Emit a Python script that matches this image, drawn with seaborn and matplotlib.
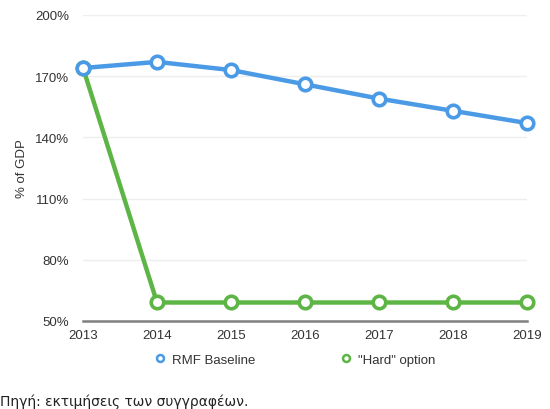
import pandas as pd
import numpy as np
import matplotlib
matplotlib.use('Agg')
import matplotlib.pyplot as plt
from matplotlib.lines import Line2D
import seaborn as sns

sns.set_style('white')
plt.rcParams['font.family'] = ['Liberation Sans', 'DejaVu Sans']

years = [2013, 2014, 2015, 2016, 2017, 2018, 2019]
rmf_baseline = [174, 177, 173, 166, 159, 153, 147]
hard_option = [174, 59, 59, 59, 59, 59, 59]
series_names = ['RMF Baseline', '"Hard" option']
yticks = [50, 80, 110, 140, 170, 200]

df = pd.DataFrame({
    'year': years * 2,
    'value': rmf_baseline + hard_option,
    'series': [series_names[0]] * len(years) + [series_names[1]] * len(years),
})

colors = {series_names[0]: '#4a9ae6', series_names[1]: '#5cb545'}

fig = plt.figure(figsize=(5.5, 4.1), dpi=100)
ax = fig.add_axes([0.151, 0.215, 0.807, 0.746])

sns.lineplot(data=df, x='year', y='value', hue='series', palette=colors,
             marker='o', markersize=9, markerfacecolor='white',
             markeredgewidth=2.6, linewidth=3.2, legend=False, ax=ax)
# blue sits on top of green where they meet in 2013
for ln, z in zip(ax.lines, [4, 3]):
    ln.set_clip_on(False)
    ln.set_markeredgecolor(ln.get_color())
    ln.set_zorder(z)

ax.set_xlim(2013, 2019)
ax.set_ylim(50, 200)
ax.set_xticks(years)
ax.set_xticklabels([str(y) for y in years])
ax.set_yticks(yticks)
ax.set_yticklabels([f'{v}%' for v in yticks])
ax.yaxis.grid(True, color='#eeeeee', linewidth=1)
ax.xaxis.grid(False)
for s in ['top', 'right', 'left']:
    ax.spines[s].set_visible(False)
ax.spines['bottom'].set_color('#808080')
ax.spines['bottom'].set_linewidth(1.8)
ax.tick_params(axis='both', length=0, labelsize=9.5, colors='#333333')
ax.tick_params(axis='x', pad=6)
ax.tick_params(axis='y', pad=10)
ax.set_xlabel('')
ax.set_ylabel('% of GDP', fontsize=9.5, color='#333333', labelpad=5)

handles = [Line2D([], [], linestyle='none', marker='o', markersize=5,
                  markerfacecolor='white', markeredgewidth=1.8,
                  markeredgecolor=colors[n]) for n in series_names]
fig.legend(handles, series_names, loc='center', bbox_to_anchor=(0.535, 0.12),
           ncol=2, frameon=False, fontsize=9.5, columnspacing=6.4,
           handletextpad=0.4, handlelength=1.0, labelcolor='#333333')

fig.text(0.0, 0.02, 'Πηγή: εκτιμήσεις των συγγραφέων.', fontsize=10,
         family='DejaVu Sans', color='#222222', ha='left', va='center')

fig.savefig('out.png', dpi=100)
